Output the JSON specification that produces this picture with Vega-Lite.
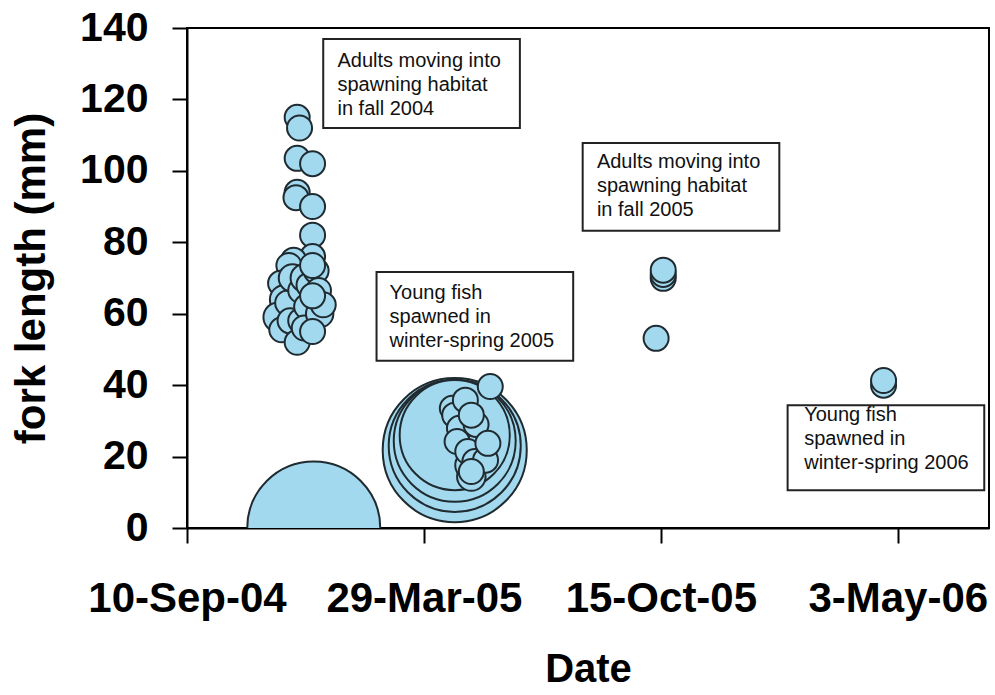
{
  "$schema": "https://vega.github.io/schema/vega-lite/v6.json",
  "width": 802,
  "height": 500,
  "autosize": {"type": "none"},
  "padding": {"left": 187, "top": 28, "right": 6, "bottom": 167},
  "background": "white",
  "config": {
    "font": "Liberation Sans",
    "view": {"stroke": "black", "strokeWidth": 2},
    "axis": {
      "domainColor": "black", "domainWidth": 2,
      "tickColor": "black", "tickWidth": 2, "tickSize": 15,
      "labelColor": "black", "titleColor": "black",
      "labelFont": "Liberation Sans", "titleFont": "Liberation Sans",
      "labelFontWeight": "bold", "titleFontWeight": "bold",
      "grid": false, "labelFlush": false, "labelOverlap": false, "labelLimit": 0
    }
  },
  "datasets": {
    "fish": [
      {"date": "2004-12-26", "fl": 0, "n": 28.3},
      {"date": "2005-04-24", "fl": 21.8, "n": 33.2},
      {"date": "2005-04-24", "fl": 23.0, "n": 27.9},
      {"date": "2005-04-24", "fl": 24.4, "n": 23.8},
      {"date": "2005-04-24", "fl": 26.0, "n": 19.4},
      {"date": "2004-12-12", "fl": 115, "n": 1},
      {"date": "2004-12-14", "fl": 112, "n": 1},
      {"date": "2004-12-12", "fl": 103.5, "n": 1},
      {"date": "2004-12-25", "fl": 102, "n": 1},
      {"date": "2004-12-12", "fl": 94, "n": 1},
      {"date": "2004-12-11", "fl": 92.5, "n": 1},
      {"date": "2004-12-25", "fl": 90, "n": 1},
      {"date": "2004-12-25", "fl": 82, "n": 1},
      {"date": "2004-12-25", "fl": 76, "n": 1},
      {"date": "2004-12-09", "fl": 75, "n": 1},
      {"date": "2004-12-05", "fl": 73.5, "n": 1},
      {"date": "2004-11-28", "fl": 68.5, "n": 1},
      {"date": "2004-12-01", "fl": 64, "n": 1.3},
      {"date": "2004-11-26", "fl": 59, "n": 1.4},
      {"date": "2004-11-29", "fl": 55.5, "n": 1},
      {"date": "2004-12-04", "fl": 63, "n": 1},
      {"date": "2004-12-08", "fl": 70, "n": 1.2},
      {"date": "2004-12-15", "fl": 66.5, "n": 1},
      {"date": "2004-12-18", "fl": 70, "n": 1.2},
      {"date": "2004-12-06", "fl": 58, "n": 1},
      {"date": "2004-12-15", "fl": 58, "n": 1},
      {"date": "2004-12-12", "fl": 52, "n": 1},
      {"date": "2004-12-20", "fl": 62, "n": 1},
      {"date": "2004-12-22", "fl": 68, "n": 1},
      {"date": "2004-12-18", "fl": 56, "n": 1},
      {"date": "2004-12-28", "fl": 72, "n": 1},
      {"date": "2004-12-30", "fl": 66.5, "n": 1},
      {"date": "2004-12-31", "fl": 60, "n": 1.2},
      {"date": "2005-01-03", "fl": 62.5, "n": 1},
      {"date": "2004-12-25", "fl": 73.5, "n": 1},
      {"date": "2004-12-25", "fl": 65, "n": 1},
      {"date": "2004-12-25", "fl": 55, "n": 1},
      {"date": "2005-05-08", "fl": 14.4, "n": 1.3},
      {"date": "2005-05-06", "fl": 17.6, "n": 1.2},
      {"date": "2005-04-22", "fl": 33.5, "n": 1},
      {"date": "2005-04-24", "fl": 31.6, "n": 1},
      {"date": "2005-04-28", "fl": 27.9, "n": 1},
      {"date": "2005-04-26", "fl": 24.2, "n": 1},
      {"date": "2005-05-03", "fl": 35.8, "n": 1},
      {"date": "2005-05-12", "fl": 29, "n": 1},
      {"date": "2005-05-08", "fl": 31.6, "n": 1},
      {"date": "2005-05-05", "fl": 21.4, "n": 1},
      {"date": "2005-05-11", "fl": 18.6, "n": 1},
      {"date": "2005-05-20", "fl": 19, "n": 1},
      {"date": "2005-05-08", "fl": 15.8, "n": 1},
      {"date": "2005-05-22", "fl": 23.7, "n": 1},
      {"date": "2005-05-24", "fl": 39.6, "n": 1},
      {"date": "2005-10-17", "fl": 69.9, "n": 1},
      {"date": "2005-10-17", "fl": 71, "n": 1},
      {"date": "2005-10-17", "fl": 72.2, "n": 1},
      {"date": "2005-10-11", "fl": 53.1, "n": 1},
      {"date": "2006-04-21", "fl": 40, "n": 1},
      {"date": "2006-04-21", "fl": 41.3, "n": 1}
    ],
    "notes": [
      {"x1": "2005-01-03", "x2": "2005-06-18", "y1": 136.9, "y2": 112.0, "tx": "2005-01-15", "ty": 129.2, "label": "Adults moving into\nspawning habitat\nin fall 2004"},
      {"x1": "2005-02-17", "x2": "2005-08-02", "y1": 71.7, "y2": 46.8, "tx": "2005-02-28", "ty": 64.1, "label": "Young fish\nspawned in\nwinter-spring 2005"},
      {"x1": "2005-08-10", "x2": "2006-01-23", "y1": 107.8, "y2": 83.2, "tx": "2005-08-22", "ty": 100.8, "label": "Adults moving into\nspawning habitat\nin fall 2005"},
      {"x1": "2006-01-30", "x2": "2006-07-15", "y1": 34.4, "y2": 10.6, "tx": "2006-02-13", "ty": 30.0, "label": "Young fish\nspawned in\nwinter-spring 2006"}
    ]
  },
  "layer": [
    {
      "data": {"name": "fish"},
      "mark": {"type": "circle", "color": "#a3d9ee", "opacity": 1, "stroke": "#1f2b30", "strokeWidth": 2, "clip": true},
      "encoding": {
        "x": {
          "field": "date", "type": "temporal", "title": "Date",
          "scale": {"type": "utc", "domain": [{"year": 2004, "month": 9, "date": 10, "utc": true}, {"year": 2006, "month": 7, "date": 19, "utc": true}]},
          "axis": {
            "values": [
              {"year": 2004, "month": 9, "date": 10, "utc": true},
              {"year": 2005, "month": 3, "date": 29, "utc": true},
              {"year": 2005, "month": 10, "date": 15, "utc": true},
              {"year": 2006, "month": 5, "date": 3, "utc": true}
            ],
            "labelExpr": "utcFormat(datum.value, '%-d-%b-%y')",
            "labelFontSize": 42, "labelPadding": 35,
            "titleFontSize": 40, "titlePadding": 30
          }
        },
        "y": {
          "field": "fl", "type": "quantitative", "title": "fork length (mm)",
          "scale": {"domain": [0, 140]},
          "axis": {
            "values": [0, 20, 40, 60, 80, 100, 120, 140],
            "labelFontSize": 41, "labelPadding": 24,
            "titleFontSize": 42, "titlePadding": 26
          }
        },
        "size": {"field": "n", "type": "quantitative", "scale": {"domain": [0, 40], "range": [0, 25000]}, "legend": null}
      }
    },
    {
      "data": {"name": "notes"},
      "mark": {"type": "rect", "fill": "white", "stroke": "#222222", "strokeWidth": 2},
      "encoding": {
        "x": {"field": "x1", "type": "temporal", "title": "Date"},
        "x2": {"field": "x2"},
        "y": {"field": "y1", "type": "quantitative", "title": "fork length (mm)"},
        "y2": {"field": "y2"}
      }
    },
    {
      "data": {"name": "notes"},
      "mark": {"type": "text", "align": "left", "baseline": "alphabetic", "fontSize": 20, "lineHeight": 24, "lineBreak": "\n", "color": "#111111", "font": "Liberation Sans"},
      "encoding": {
        "x": {"field": "tx", "type": "temporal", "title": "Date"},
        "y": {"field": "ty", "type": "quantitative", "title": "fork length (mm)"},
        "text": {"field": "label"}
      }
    }
  ]
}
